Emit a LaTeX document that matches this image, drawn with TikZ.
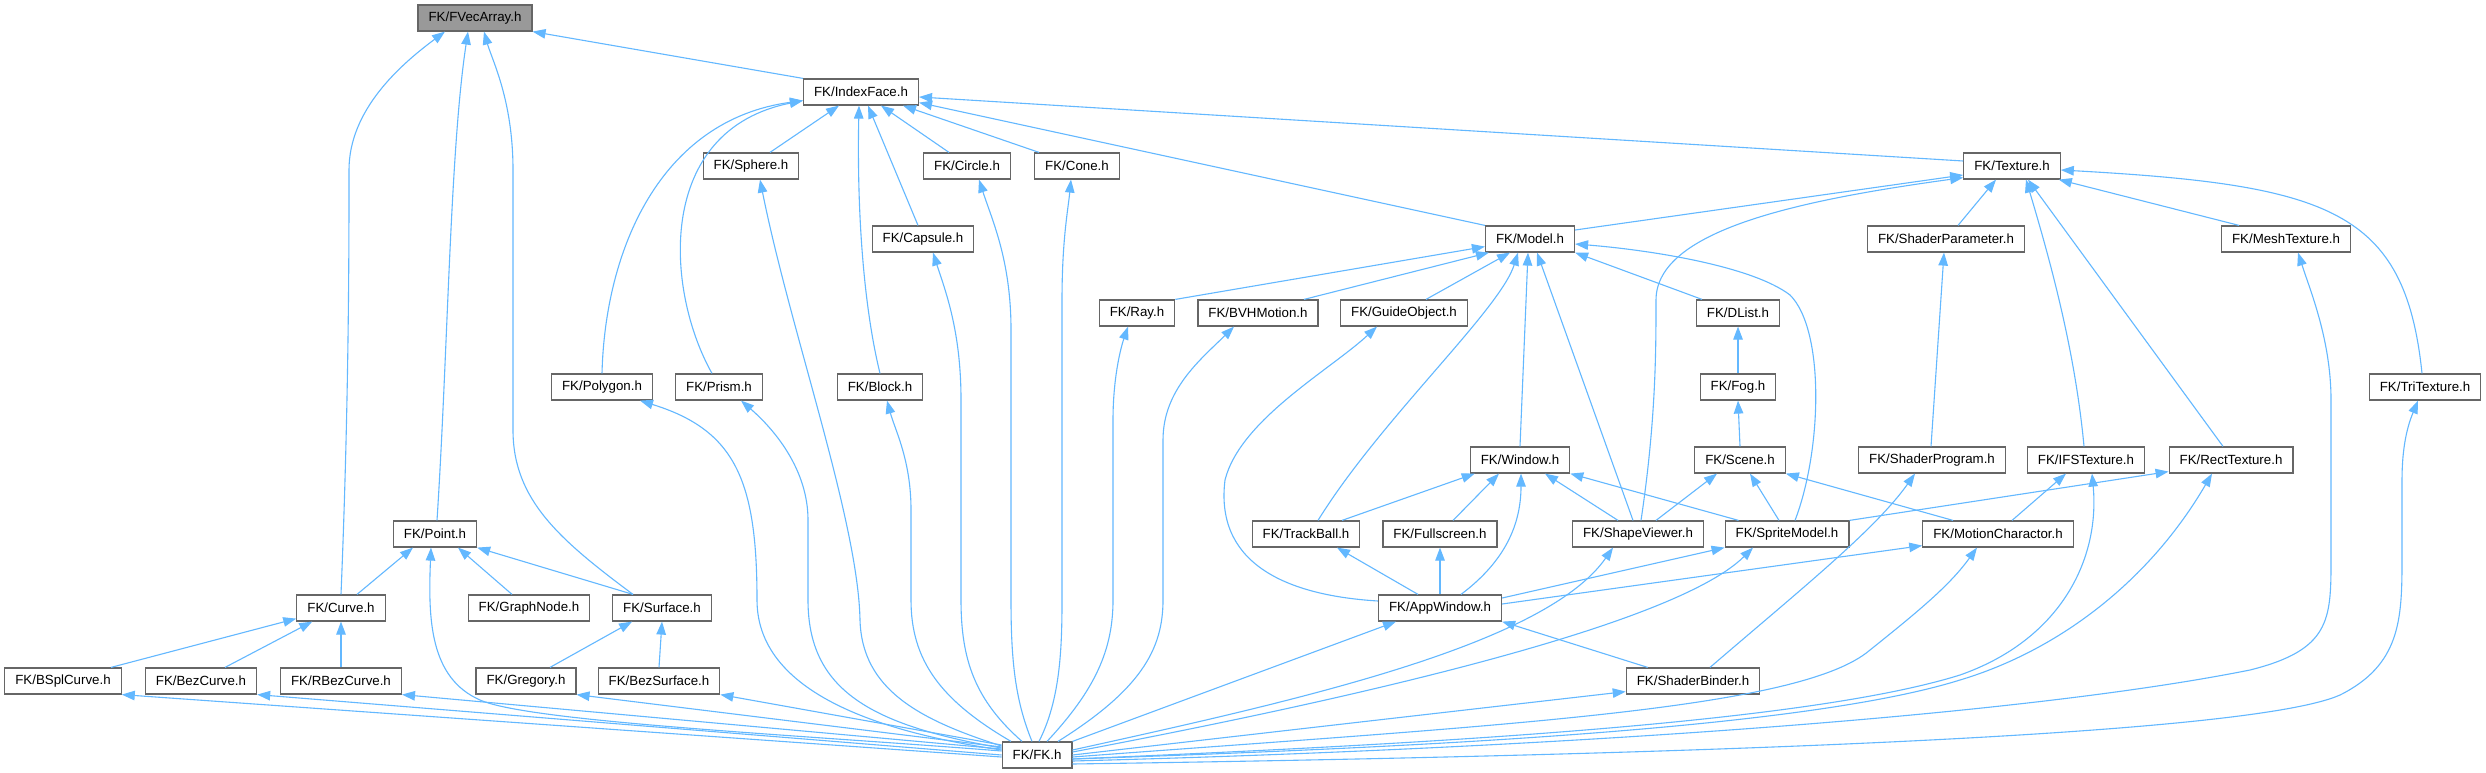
\documentclass[tikz,border=0pt]{standalone}
\usepackage{fontspec}
\setmainfont{Liberation Sans}
\usetikzlibrary{arrows.meta}
\definecolor{edgeblue}{HTML}{63B8FF}
\definecolor{boxgray}{HTML}{666666}
\definecolor{mainfill}{HTML}{999999}
\newcommand{\dxfont}{\fontsize{13.3}{16}\selectfont}
\tikzset{
  box/.style={draw=boxgray, line width=1.2pt, fill=white, minimum height=26pt,
    inner xsep=10.5pt, inner ysep=0pt, font=\dxfont, text=black},
  mainbox/.style={box, fill=mainfill},
  dep/.style={draw=edgeblue, line width=1.1pt, -{Triangle[length=13pt,width=9.5pt]}},
}
\begin{document}
\begin{tikzpicture}[x=1pt,y=-1pt]
\useasboundingbox[fill=white] (0,0) rectangle (2486,773);
% nodes
\node[mainbox] (fvec) at (475,18) {FK/FVecArray.h};
\node[box] (idx) at (861,92) {FK/IndexFace.h};
\node[box] (sphere) at (751,166) {FK/Sphere.h};
\node[box] (circle) at (967,166) {FK/Circle.h};
\node[box] (cone) at (1077,166) {FK/Cone.h};
\node[box] (texture) at (2012,166) {FK/Texture.h};
\node[box] (capsule) at (923,239) {FK/Capsule.h};
\node[box] (model) at (1530,239) {FK/Model.h};
\node[box] (shparam) at (1946,239) {FK/ShaderParameter.h};
\node[box] (mesh) at (2286,239) {FK/MeshTexture.h};
\node[box] (ray) at (1137,313) {FK/Ray.h};
\node[box] (bvh) at (1258,313) {FK/BVHMotion.h};
\node[box] (guide) at (1404,313) {FK/GuideObject.h};
\node[box] (dlist) at (1738,313) {FK/DList.h};
\node[box] (polygon) at (602,387) {FK/Polygon.h};
\node[box] (prism) at (719,387) {FK/Prism.h};
\node[box] (block) at (880,387) {FK/Block.h};
\node[box] (fog) at (1738,387) {FK/Fog.h};
\node[box] (tri) at (2425,387) {FK/TriTexture.h};
\node[box] (window) at (1520,460) {FK/Window.h};
\node[box] (scene) at (1740,460) {FK/Scene.h};
\node[box] (shprog) at (1932,460) {FK/ShaderProgram.h};
\node[box] (ifs) at (2086,460) {FK/IFSTexture.h};
\node[box] (rect) at (2231,460) {FK/RectTexture.h};
\node[box] (point) at (435,534) {FK/Point.h};
\node[box] (track) at (1306,534) {FK/TrackBall.h};
\node[box] (full) at (1440,534) {FK/Fullscreen.h};
\node[box] (shview) at (1638,534) {FK/ShapeViewer.h};
\node[box] (sprite) at (1787,534) {FK/SpriteModel.h};
\node[box] (motion) at (1998,534) {FK/MotionCharactor.h};
\node[box] (curve) at (341,608) {FK/Curve.h};
\node[box] (graph) at (529,608) {FK/GraphNode.h};
\node[box] (surface) at (662,608) {FK/Surface.h};
\node[box] (app) at (1440,608) {FK/AppWindow.h};
\node[box] (bspl) at (63,681) {FK/BSplCurve.h};
\node[box] (bez) at (201,681) {FK/BezCurve.h};
\node[box] (rbez) at (341,681) {FK/RBezCurve.h};
\node[box] (greg) at (526,681) {FK/Gregory.h};
\node[box] (bezs) at (659,681) {FK/BezSurface.h};
\node[box] (binder) at (1693,681) {FK/ShaderBinder.h};
\node[box] (fk) at (1037,755) {FK/FK.h};

% edges into FVecArray
\draw[dep] (idx.north west) -- (fvec.south east);
\draw[dep] (curve.north) .. controls (349,400) and (349,250) .. (349,170) .. controls (349,110) and (400,65) .. ([xshift=-30]fvec.south);
\draw[dep] ([xshift=2]point.north) .. controls (448,350) and (450,150) .. ([xshift=-7]fvec.south);
\draw[dep] ([xshift=-29]surface.north) .. controls (560,540) and (513,500) .. (513,430) -- (513,170) .. controls (513,100) and (492,60) .. ([xshift=9]fvec.south);

% edges into IndexFace
\draw[dep] ([xshift=19]sphere.north) -- ([xshift=-22]idx.south);
\draw[dep] (polygon.north) .. controls (605,250) and (660,120) .. ([yshift=5]idx.south west);
\draw[dep] ([xshift=-7]prism.north) .. controls (665,290) and (655,130) .. ([yshift=5]idx.south west);
\draw[dep] ([xshift=-18]circle.north) -- ([xshift=20]idx.south);
\draw[dep] ([xshift=-38]cone.north) -- ([xshift=42]idx.south);
\draw[dep] ([xshift=-5]capsule.north) -- ([xshift=7]idx.south);
\draw[dep] (block.north) .. controls (862,300) and (857,200) .. ([xshift=-2]idx.south);
\draw[dep] (model.north west) -- ([yshift=3]idx.south east);
\draw[dep] ([yshift=5]texture.west) -- ([yshift=-5]idx.east);

% edges into Texture
\draw[dep] ([yshift=9]model.east) -- ([yshift=-9]texture.west);
\draw[dep] ([xshift=3]shview.north) .. controls (1656,420) and (1656,350) .. (1656,300) .. controls (1656,230) and (1800,200) .. ([yshift=2]texture.south west);
\draw[dep] ([xshift=-2]ifs.north) .. controls (2075,350) and (2050,260) .. ([xshift=14]texture.south);
\draw[dep] ([xshift=-8]rect.north) -- ([xshift=16]texture.south);
\draw[dep] ([xshift=12]shparam.north) -- ([xshift=-16]texture.south);
\draw[dep] ([xshift=-47]mesh.north) -- ([xshift=-2]texture.south east);
\draw[dep] ([xshift=-3]tri.north) .. controls (2405,210) and (2330,185) .. ([yshift=-4]texture.east);

% edges into Model
\draw[dep] ([xshift=8]sprite.north) .. controls (1822,450) and (1825,330) .. (1790,295) .. controls (1752,266) and (1650,250) .. ([yshift=-5]model.east);
\draw[dep] ([xshift=-36]dlist.north) -- (model.south east);
\draw[dep] (ray.north east) -- ([yshift=6]model.south west);
\draw[dep] ([xshift=46]bvh.north) -- ([xshift=4]model.south west);
\draw[dep] ([xshift=22]guide.north) -- ([xshift=-20]model.south);
\draw[dep] ([xshift=12]track.north) .. controls (1380,420) and (1500,310) .. ([xshift=-12]model.south);
\draw[dep] (window.north) -- ([xshift=-2]model.south);
\draw[dep] ([xshift=-5]shview.north) -- ([xshift=7]model.south);

% chain DList/Fog/Scene, ShaderParameter/ShaderProgram
\draw[dep] (fog.north) -- (dlist.south);
\draw[dep] (scene.north) -- (fog.south);
\draw[dep] ([xshift=-1]shprog.north) -- ([xshift=-2]shparam.south);

% edges into Window
\draw[dep] ([xshift=36]track.north) -- ([xshift=5]window.south west);
\draw[dep] ([xshift=13]full.north) -- ([xshift=-21]window.south);
\draw[dep] ([xshift=21]app.north) .. controls (1500,565) and (1521,530) .. ([xshift=1]window.south);
\draw[dep] ([xshift=-20]shview.north) -- ([xshift=25]window.south);
\draw[dep] ([xshift=14]sprite.north west) -- (window.south east);

% edges into Scene, IFSTexture, RectTexture, ShaderProgram
\draw[dep] ([xshift=18]shview.north) -- ([xshift=-23]scene.south);
\draw[dep] ([xshift=-8]sprite.north) -- ([xshift=10]scene.south);
\draw[dep] ([xshift=-45]motion.north) -- (scene.south east);
\draw[dep] ([xshift=14]motion.north) -- ([xshift=-20]ifs.south);
\draw[dep] (sprite.north east) -- ([yshift=2]rect.south west);
\draw[dep] ([xshift=17]binder.north) .. controls (1800,590) and (1875,530) .. ([xshift=-17]shprog.south);

% edges around AppWindow
\draw[dep] ([xshift=22]binder.north west) -- (app.south east);
\draw[dep] ([xshift=-22]app.north) -- ([xshift=31]track.south);
\draw[dep] (app.north) -- (full.south);
\draw[dep] ([yshift=7]app.west) .. controls (1280,595) and (1215,560) .. (1225,480) .. controls (1240,420) and (1330,370) .. ([xshift=-27]guide.south);
\draw[dep] ([yshift=10]app.east) -- (sprite.south west);
\draw[dep] ([yshift=4]app.east) -- ([yshift=2]motion.south west);

% Point, Curve, Surface
\draw[dep] ([xshift=16]curve.north) -- ([xshift=-22]point.south);
\draw[dep] ([xshift=-17]graph.north) -- ([xshift=23]point.south);
\draw[dep] ([xshift=-29]surface.north) -- (point.south east);
\draw[dep] ([xshift=48]bspl.north) -- ([yshift=3]curve.south west);
\draw[dep] ([xshift=24]bez.north) -- ([xshift=16]curve.south west);
\draw[dep] (rbez.north) -- (curve.south);
\draw[dep] ([xshift=24]greg.north) -- ([xshift=20]surface.south west);
\draw[dep] (bezs.north) -- (surface.south);

% edges from FK.h (left side)
\draw[dep] ([yshift=4]fk.west) .. controls (800,735) and (530,722) .. (480,700) .. controls (430,678) and (428,620) .. ([xshift=-4]point.south);
\draw[dep] ([yshift=-2]fk.west) -- (bspl.south east);
\draw[dep] ([yshift=0]fk.west) -- (bez.south east);
\draw[dep] ([yshift=6]fk.west) -- (rbez.south east);
\draw[dep] ([yshift=8]fk.west) -- (greg.south east);
\draw[dep] ([yshift=10]fk.west) -- (bezs.south east);
\draw[dep] ([yshift=5]fk.west) .. controls (900,735) and (757,700) .. (757,600) .. controls (757,480) and (735,430) .. ([xshift=38]polygon.south);
\draw[dep] ([yshift=7]fk.west) .. controls (870,725) and (808,690) .. (808,600) -- (808,520) .. controls (808,470) and (775,430) .. ([xshift=22]prism.south);
\draw[dep] ([yshift=9]fk.west) .. controls (920,720) and (862,690) .. (860,620) .. controls (858,520) and (790,330) .. ([xshift=9]sphere.south);

% edges from FK.h (top)
\draw[dep] ([xshift=-26]fk.north) .. controls (940,700) and (911,660) .. (911,600) -- (911,510) .. controls (911,460) and (895,430) .. ([xshift=7]block.south);
\draw[dep] ([xshift=-15]fk.north) .. controls (975,700) and (961,660) .. (961,600) -- (961,400) .. controls (961,330) and (945,290) .. ([xshift=10]capsule.south);
\draw[dep] ([xshift=-5]fk.north) .. controls (1015,700) and (1011,660) .. (1011,600) -- (1011,330) .. controls (1011,260) and (992,220) .. ([xshift=12]circle.south);
\draw[dep] ([xshift=2]fk.north) .. controls (1060,700) and (1062,650) .. (1062,600) -- (1062,300) .. controls (1062,240) and (1068,210) .. ([xshift=-6]cone.south);
\draw[dep] ([xshift=10]fk.north) .. controls (1095,690) and (1113,650) .. (1113,600) -- (1113,420) .. controls (1113,380) and (1120,350) .. ([xshift=-9]ray.south);
\draw[dep] ([xshift=21]fk.north) .. controls (1140,690) and (1163,650) .. (1163,600) -- (1163,440) .. controls (1163,390) and (1200,360) .. ([xshift=-24]bvh.south);

% edges from FK.h (right side)
\draw[dep] (fk.north east) -- ([xshift=-44]app.south);
\draw[dep] ([yshift=5]fk.east) .. controls (1300,700) and (1545,645) .. ([xshift=-25]shview.south);
\draw[dep] ([yshift=3]fk.east) .. controls (1400,690) and (1680,620) .. ([xshift=-34]sprite.south);
\draw[dep] (fk.east) -- ([yshift=3]binder.south west);
\draw[dep] ([yshift=-2]fk.east) .. controls (1500,725) and (1800,710) .. (1870,650) .. controls (1920,610) and (1950,585) .. ([xshift=-21]motion.south);
\draw[dep] ([yshift=-4]fk.east) .. controls (1400,745) and (1800,725) .. (1960,675) .. controls (2060,640) and (2100,560) .. ([xshift=6]ifs.south);
\draw[dep] ([yshift=-4]fk.east) .. controls (1400,748) and (1800,730) .. (1960,680) .. controls (2060,650) and (2150,580) .. ([xshift=-19]rect.south);
\draw[dep] ([yshift=-6]fk.east) .. controls (1500,750) and (2000,720) .. (2250,670) .. controls (2330,650) and (2331,620) .. (2331,560) -- (2331,400) .. controls (2331,340) and (2310,290) .. ([xshift=12]mesh.south);
\draw[dep] ([yshift=-9]fk.east) .. controls (1700,755) and (2250,735) .. (2340,695) .. controls (2400,665) and (2402,620) .. (2402,560) -- (2402,480) .. controls (2402,440) and (2410,420) .. ([xshift=-7]tri.south);
\end{tikzpicture}
\end{document}
